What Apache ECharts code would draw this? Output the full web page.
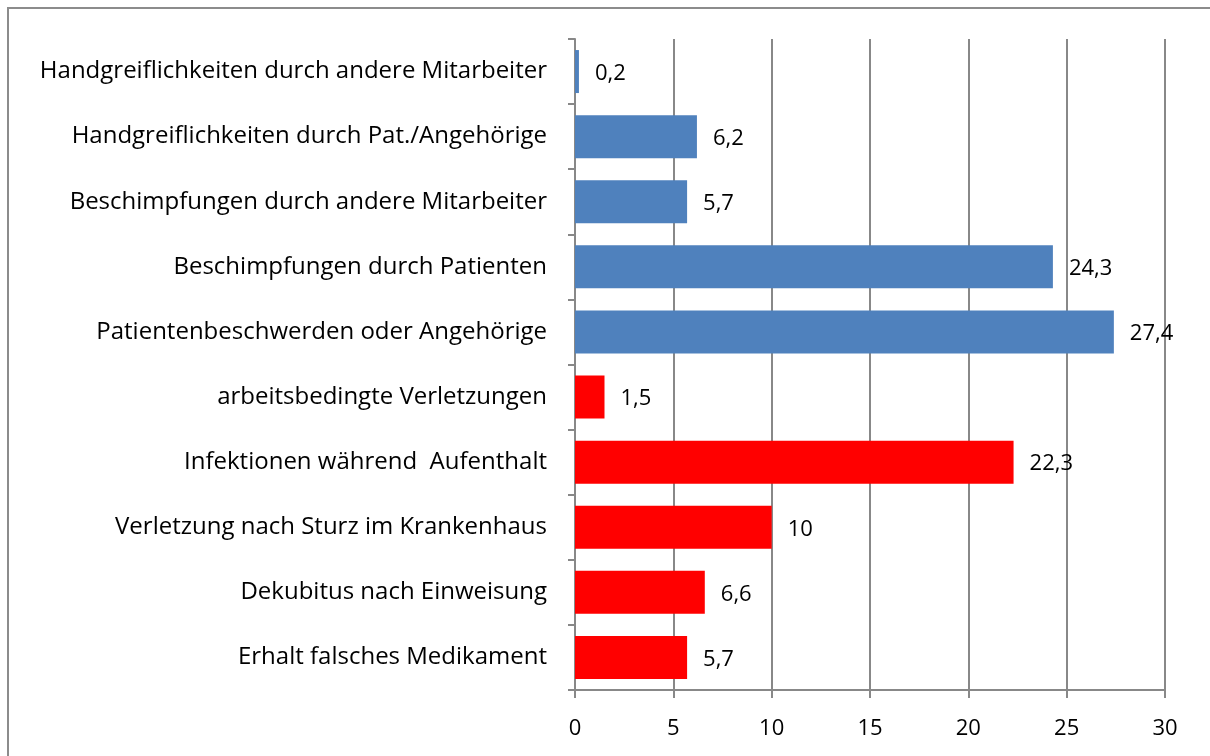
<!DOCTYPE html>
<html><head><meta charset="utf-8">
<script src="https://cdn.jsdelivr.net/npm/echarts@6/dist/echarts.min.js"></script>
<style>html,body{margin:0;padding:0;background:#fff}#c{width:1210px;height:756px}</style>
</head><body><div id="c"></div>
<script>
const categories = [
  "Handgreiflichkeiten durch andere Mitarbeiter",
  "Handgreiflichkeiten durch Pat./Angehörige",
  "Beschimpfungen durch andere Mitarbeiter",
  "Beschimpfungen durch Patienten",
  "Patientenbeschwerden oder Angehörige",
  "arbeitsbedingte Verletzungen",
  "Infektionen während  Aufenthalt",
  "Verletzung nach Sturz im Krankenhaus",
  "Dekubitus nach Einweisung",
  "Erhalt falsches Medikament"
];
const values = [0.2, 6.2, 5.7, 24.3, 27.4, 1.5, 22.3, 10, 6.6, 5.7];
const groupColors = ["#4F81BD","#4F81BD","#4F81BD","#4F81BD","#4F81BD","#FF0000","#FF0000","#FF0000","#FF0000","#FF0000"];
const xTicks = [0, 5, 10, 15, 20, 25, 30];

const FONT = "'Open Sans', sans-serif";
const chart = echarts.init(document.getElementById('c'), null, {renderer:'canvas'});
chart.setOption({
  animation: false,
  backgroundColor: '#fff',
  graphic: [{
    type: 'rect', z: -1,
    shape: {x: 8, y: 8, width: 1400, height: 900},
    style: {fill: 'none', stroke: '#8c8c8c', lineWidth: 2}
  }],
  grid: {left: 575, right: 45, top: 39, bottom: 66, containLabel: false},
  xAxis: {
    type: 'value', min: xTicks[0], max: xTicks[xTicks.length-1], interval: 5,
    axisLine: {show: true, lineStyle: {color: '#888', width: 2}},
    axisTick: {show: true, length: 8, lineStyle: {color: '#888', width: 2}},
    splitLine: {show: true, lineStyle: {color: '#888', width: 2}},
    axisLabel: {color: '#000', fontSize: 22, fontFamily: FONT, margin: 28}
  },
  yAxis: {
    type: 'category', data: categories, inverse: true,
    axisLine: {show: true, lineStyle: {color: '#888', width: 2}},
    axisTick: {show: true, length: 7, lineStyle: {color: '#888', width: 2}},
    axisLabel: {color: '#000', fontSize: 24, fontFamily: FONT, margin: 28}
  },
  series: [{
    type: 'bar', barWidth: 43,
    data: values.map((v, i) => ({value: v, itemStyle: {color: groupColors[i]}})),
    label: {
      show: true, position: 'right', distance: 16,
      color: '#000', fontSize: 22, fontFamily: FONT, offset: [0, 2],
      formatter: p => String(p.value).replace('.', ',')
    }
  }]
});
</script></body></html>
